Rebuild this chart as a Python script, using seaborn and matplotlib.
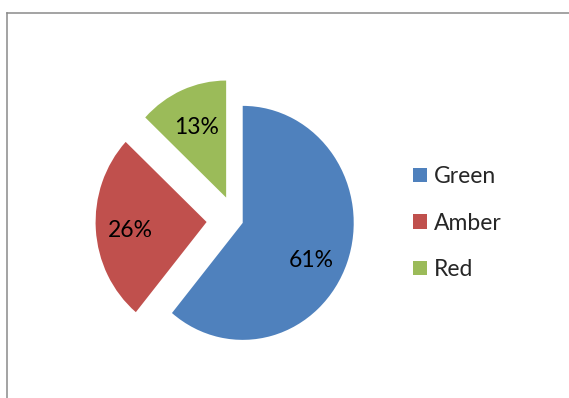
import matplotlib
matplotlib.use("Agg")
import matplotlib.pyplot as plt
from matplotlib.lines import Line2D
import seaborn as sns

# ---- data ----
categories = ["Green", "Amber", "Red"]
values = [61, 26, 13]
colors_hex = ["#4F81BD", "#C0504D", "#9BBB59"]
explode = [0.07, 0.26, 0.21]

sns.set_theme(style="white")
plt.rcParams["font.family"] = ["Lato", "DejaVu Sans"]

W, H, DPI = 569, 398, 100
fig = plt.figure(figsize=(W / DPI, H / DPI), dpi=DPI)
fig.patch.set_facecolor("white")

ax = fig.add_axes([0, 0, 1, 1])
palette = sns.color_palette(colors_hex)

fs = 16.5
wedges, texts, autotexts = ax.pie(
    values,
    explode=explode,
    colors=palette,
    startangle=90,
    counterclock=False,
    autopct="%1.0f%%",
    pctdistance=0.68,
    wedgeprops=dict(linewidth=0),
    textprops=dict(fontsize=fs, color="black"),
)

# pixel mapping: pie centre near (235, 220) px, radii ~111 px horizontally, ~117 px vertically
cx, cy, sx, sy = 235.4, 220.1, 111.0, 117.0
ax.set_aspect("auto")
ax.set_xlim(-cx / sx, (W - cx) / sx)
ax.set_ylim(-(H - cy) / sy, cy / sy)
ax.axis("off")

# small nudges (in px) so the percentage labels sit where the reference places them
nudges = [(-2, -11), (-1, -3), (0, -3)]
for t, (dx, dy) in zip(autotexts, nudges):
    x, y = t.get_position()
    t.set_position((x + dx / sx, y + dy / sy))

fs_px = fs * DPI / 72
leg = ax.legend(
    wedges, categories,
    loc="center left",
    bbox_to_anchor=(413 / W, 1 - 223 / H),
    bbox_transform=fig.transFigure,
    frameon=False,
    fontsize=fs,
    handlelength=13.5 / fs_px,
    handleheight=13.5 / fs_px,
    handletextpad=7 / fs_px,
    labelspacing=1.12,
    borderpad=0,
    borderaxespad=0,
)

# chart-area frame (cropped on the right and bottom): left and top edges only visible
x0 = 6.5 / W
y0 = 1 - 12.5 / H
fig.lines.append(Line2D([x0, x0], [-0.05, y0], transform=fig.transFigure,
                        color="#8a8a8a", linewidth=1.1, solid_capstyle="projecting"))
fig.lines.append(Line2D([x0, 1.05], [y0, y0], transform=fig.transFigure,
                        color="#8a8a8a", linewidth=1.1, solid_capstyle="projecting"))

fig.savefig("out.png", dpi=DPI, facecolor="white")
